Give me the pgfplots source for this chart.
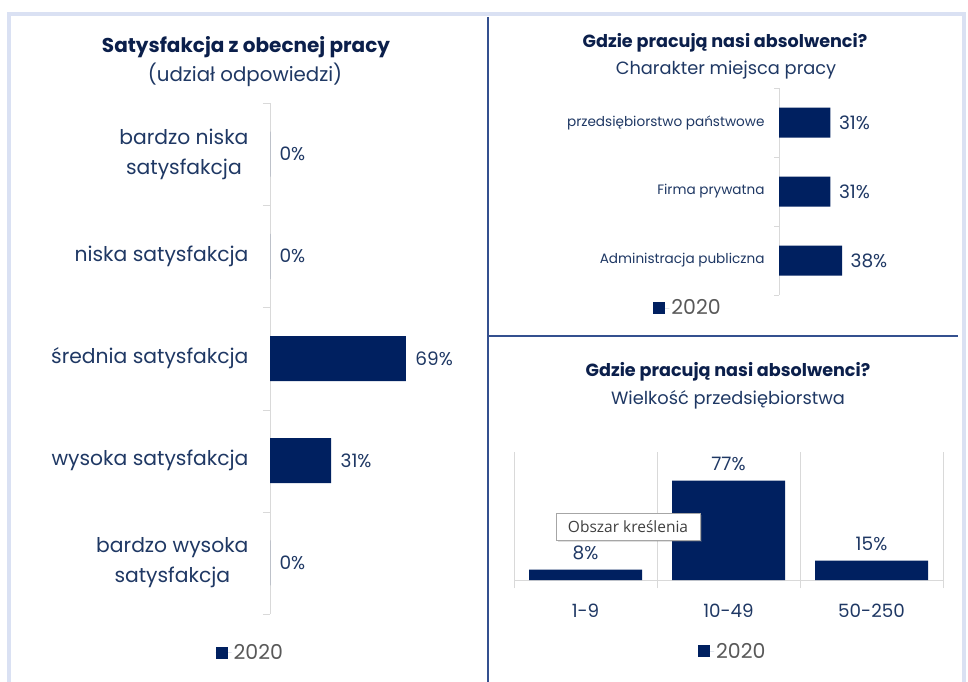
\documentclass[border=0pt]{standalone}
\usepackage{pgfplots}
\pgfplotsset{compat=1.18}
\usepackage{fontspec}
\setmainfont{Poppins}
\newfontfamily\tipfont{Open Sans}
\usetikzlibrary{shadows}

\definecolor{navy}{HTML}{002060}
\definecolor{txt}{HTML}{1F3864}
\definecolor{ttl}{HTML}{0B1F4B}
\definecolor{axgray}{HTML}{D9D9D9}
\definecolor{leggray}{HTML}{595959}
\definecolor{framec}{HTML}{DAE1F3}
\definecolor{divider}{HTML}{34508F}

\pgfplotsset{
  sq legend/.style={legend image code/.code={\fill[navy] (0pt,-6pt) rectangle (12pt,6pt); \path (0pt,0pt) -- (16pt,0pt);}},
  every axis/.append style={/pgf/number format/assume math mode=true},
}

\begin{document}
\begin{tikzpicture}[x=1pt,y=1pt]
\useasboundingbox (0,0) rectangle (968,681);
\fill[white] (0,0) rectangle (968,681);
% frame and dividers
\draw[framec, line width=4pt] (9,-10) -- (9,667) -- (964,667) -- (964,-10);
\draw[divider, line width=1.6pt] (488,664) -- (488,-5);
\draw[divider, line width=1.6pt] (488,345) -- (958,345);

% titles
\node[font=\bfseries\fontsize{20}{24}\selectfont, text=ttl] at (246,634) {Satysfakcja z obecnej pracy};
\node[font=\fontsize{19.8}{22}\selectfont, text=txt] at (245,606) {(udział odpowiedzi)};
\node[font=\bfseries\fontsize{17.6}{20}\selectfont, text=ttl] at (725,638) {Gdzie pracują nasi absolwenci?};
\node[font=\fontsize{17.8}{20}\selectfont, text=txt] at (726,611) {Charakter miejsca pracy};
\node[font=\bfseries\fontsize{17.6}{20}\selectfont, text=ttl] at (728,309) {Gdzie pracują nasi absolwenci?};
\node[font=\fontsize{17.8}{20}\selectfont, text=txt] at (728,281) {Wielkość przedsiębiorstwa};

% left: satisfaction
\begin{axis}[
  at={(270pt,67pt)}, anchor=south west,
  scale only axis, width=197pt, height=511pt,
  xbar, bar width=45pt,
  xmin=0, xmax=100, ymin=-0.5, ymax=4.5, y dir=reverse,
  axis x line=none, axis y line*=left,
  y axis line style={axgray},
  ytick={0,1,2,3,4},
  yticklabels={{bardzo niska\\satysfakcja},{niska satysfakcja},{średnia satysfakcja},{wysoka satysfakcja},{bardzo wysoka\\satysfakcja}},
  yticklabel style={align=center, font=\fontsize{20.3}{30}\selectfont, text=txt, xshift=-18pt},
  major tick length=0pt,
  extra y ticks={-0.5,0.5,1.5,2.5,3.5,4.5},
  extra y tick labels={},
  extra y tick style={major tick length=7pt, tick align=outside, tick style={axgray}},
  point meta=x,
  nodes near coords={\pgfmathprintnumber{\pgfplotspointmeta}\%},
  nodes near coords style={anchor=west, xshift=6pt, font=\fontsize{18.5}{20}\selectfont, text=txt},
  legend style={draw=none, fill=none, font=\fontsize{20.5}{22}\selectfont, text=leggray,
    at={(axis description cs:-0.10,-0.076)}, anchor=center},
]
\addplot[fill=navy, draw=none, sq legend] coordinates {(0,0) (0,1) (69,2) (31,3) (0,4)};
\legend{2020}
\end{axis}

% right top: type of workplace
\begin{axis}[
  at={(779pt,386pt)}, anchor=south west,
  scale only axis, width=166pt, height=207pt,
  xbar, bar width=30pt,
  xmin=0, xmax=100, ymin=-0.5, ymax=2.5, y dir=reverse,
  axis x line=none, axis y line*=left,
  y axis line style={axgray},
  ytick={0,1,2},
  yticklabels={przedsiębiorstwo państwowe,Firma prywatna,Administracja publiczna},
  yticklabel style={font=\fontsize{13.6}{15}\selectfont, text=txt, xshift=-11pt},
  major tick length=0pt,
  extra y ticks={-0.5,0.5,1.5,2.5},
  extra y tick labels={},
  extra y tick style={major tick length=5pt, tick align=outside, tick style={axgray}},
  point meta=x,
  nodes near coords={\pgfmathprintnumber{\pgfplotspointmeta}\%},
  nodes near coords style={anchor=west, xshift=5pt, font=\fontsize{18.5}{20}\selectfont, text=txt},
  legend style={draw=none, fill=none, font=\fontsize{20.5}{22}\selectfont, text=leggray,
    at={(axis description cs:-0.548,-0.063)}, anchor=center},
]
\addplot[fill=navy, draw=none, sq legend] coordinates {(31,0) (31,1) (38,2)};
\legend{2020}
\end{axis}

% right bottom: company size
\begin{axis}[
  at={(514pt,101pt)}, anchor=south west,
  scale only axis, width=429pt, height=128pt,
  ybar, bar width=113pt,
  ymin=0, ymax=99.2, xmin=-0.5, xmax=2.5,
  axis y line=none, axis x line*=bottom,
  x axis line style={axgray},
  xtick={0,1,2},
  xticklabels={1-9,10-49,50-250},
  xticklabel style={font=\fontsize{18.3}{20}\selectfont, text=txt, yshift=-20pt},
  major tick length=0pt,
  extra x ticks={-0.5,0.5,1.5,2.5},
  extra x tick labels={},
  extra x tick style={grid=major, major grid style={axgray}, major tick length=8pt, tick align=outside, tick style={axgray}},
  point meta=y,
  nodes near coords={\pgfmathprintnumber{\pgfplotspointmeta}\%},
  nodes near coords style={anchor=south, yshift=6pt, font=\fontsize{18.5}{20}\selectfont, text=txt},
  legend style={draw=none, fill=none, font=\fontsize{20.5}{22}\selectfont, text=leggray,
    at={(axis description cs:0.51,-0.558)}, anchor=center},
]
\addplot[fill=navy, draw=none, sq legend] coordinates {(0,8) (1,77) (2,15)};
\legend{2020}
\end{axis}

% hover tooltip from the screenshot
\node[draw=gray!70, fill=white, drop shadow={opacity=0.25, shadow xshift=1.5pt, shadow yshift=-1.5pt},
  minimum width=144pt, minimum height=27pt, inner sep=0pt,
  font=\tipfont\fontsize{15.5}{17}\selectfont, text=black!75] at (628,154) {Obszar kreślenia};
\end{tikzpicture}
\end{document}
